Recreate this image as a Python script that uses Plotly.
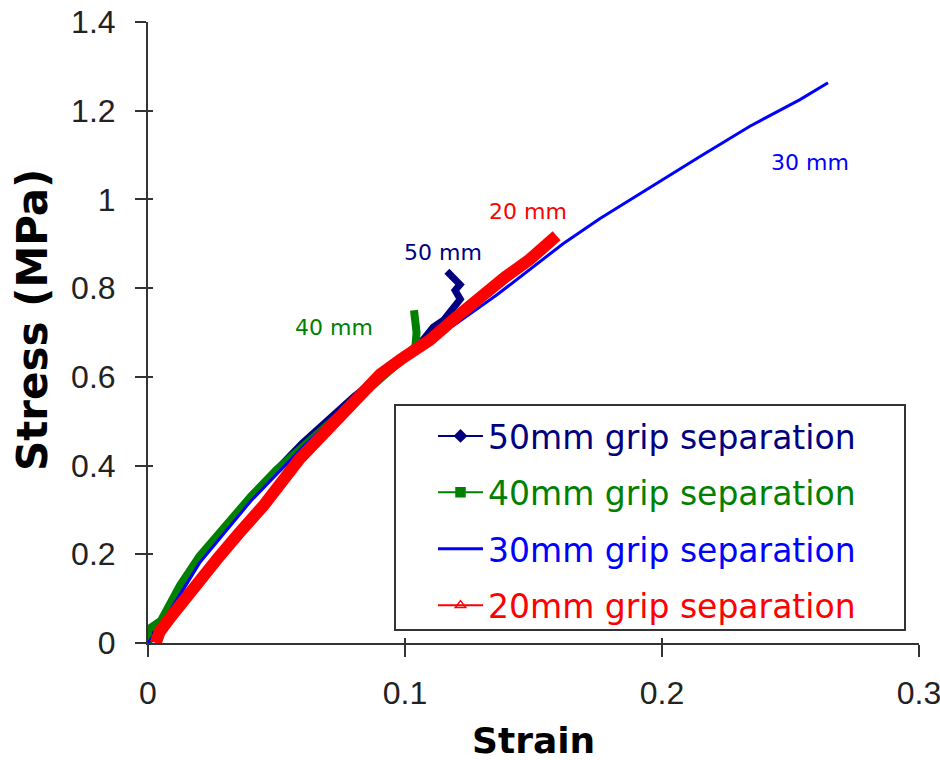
import plotly.graph_objects as go

# ---- data (strain, stress in MPa) ----
strain_50 = [0.0, 0.005, 0.02, 0.04, 0.06, 0.08, 0.095, 0.107, 0.111, 0.115, 0.1215, 0.1195, 0.1214, 0.1183, 0.1163]
stress_50 = [0.0, 0.045, 0.19, 0.33, 0.45, 0.555, 0.625, 0.683, 0.712, 0.728, 0.775, 0.795, 0.808, 0.825, 0.838]

strain_40 = [0.0, 0.0, 0.005, 0.0125, 0.02, 0.03, 0.04, 0.05, 0.06, 0.07, 0.08, 0.09, 0.1, 0.104, 0.1045, 0.1038, 0.1035]
stress_40 = [0.0, 0.03, 0.05, 0.13, 0.195, 0.265, 0.33, 0.39, 0.44, 0.49, 0.545, 0.595, 0.645, 0.665, 0.70, 0.725, 0.75]

strain_30 = [0.0, 0.005, 0.02, 0.04, 0.06, 0.08, 0.1, 0.12, 0.1358, 0.1498, 0.1615, 0.1759, 0.1953, 0.2148, 0.2342, 0.2537, 0.2646]
stress_30 = [0.0, 0.04, 0.18, 0.32, 0.44, 0.55, 0.645, 0.72, 0.785, 0.848, 0.9, 0.957, 1.027, 1.097, 1.165, 1.225, 1.263]

strain_20 = [0.003, 0.0045, 0.009, 0.018, 0.027, 0.035, 0.045, 0.059, 0.071, 0.0825, 0.0903, 0.0985, 0.1097, 0.12, 0.129, 0.139, 0.1486, 0.159]
stress_20 = [0.0, 0.025, 0.06, 0.13, 0.19, 0.245, 0.31, 0.415, 0.485, 0.553, 0.605, 0.64, 0.683, 0.735, 0.78, 0.825, 0.865, 0.918]

series_names = ["50mm grip separation", "40mm grip separation", "30mm grip separation", "20mm grip separation"]
series_colors = ["#000080", "#008000", "#0000FF", "#FF0000"]
series_labels = ["50 mm", "40 mm", "30 mm", "20 mm"]
label_pos_x = [0.1148, 0.0724, 0.2576, 0.1479]
label_pos_y = [0.881, 0.712, 1.084, 0.972]

x_ticks = [0, 0.1, 0.2, 0.3]
x_tick_text = ["0", "0.1", "0.2", "0.3"]
y_ticks = [0, 0.2, 0.4, 0.6, 0.8, 1.0, 1.2, 1.4]
y_tick_text = ["0", "0.2", "0.4", "0.6", "0.8", "1", "1.2", "1.4"]

data_x = [strain_50, strain_40, strain_30, strain_20]
data_y = [stress_50, stress_40, stress_30, stress_20]
band_widths = [7, 8, 3, 12]
legend_symbols = ["diamond", "square", None, "triangle-up-open"]

fig = go.Figure()

# data bands (dense markers in the original appear as thick bands)
for xs, ys, c, w in zip(data_x, data_y, series_colors, band_widths):
    fig.add_trace(go.Scatter(x=xs, y=ys, mode="lines",
                             line=dict(color=c, width=w, shape="linear"),
                             showlegend=False, hoverinfo="skip"))

# legend entries (thin line + marker like the original legend)
for i, (name, c, sym) in enumerate(zip(series_names, series_colors, legend_symbols)):
    if sym is None:
        fig.add_trace(go.Scatter(x=[None], y=[None], mode="lines",
                                 line=dict(color=c, width=3),
                                 name=f"<span style='color:{c}'>{name}</span>",
                                 legendgroup=f"g{i}"))
    else:
        fig.add_trace(go.Scatter(x=[None], y=[None], mode="lines+markers",
                                 line=dict(color=c, width=2),
                                 marker=dict(symbol=sym, size=9, color=c,
                                             line=dict(color=c, width=1.5)),
                                 name=f"<span style='color:{c}'>{name}</span>",
                                 legendgroup=f"g{i}"))

# dummy trace for overlay axes (inner half of crossing ticks)
fig.add_trace(go.Scatter(x=[None], y=[None], xaxis="x2", yaxis="y2",
                         showlegend=False, hoverinfo="skip"))

for txt, lx, ly, c in zip(series_labels, label_pos_x, label_pos_y, series_colors):
    fig.add_annotation(x=lx, y=ly, xref="x", yref="y", text=txt, showarrow=False,
                       font=dict(family="DejaVu Sans", size=22, color=c))

# axis titles
fig.add_annotation(x=0.4994, y=(643 - 740) / 621, xref="paper", yref="paper", text="<b>Strain</b>",
                   showarrow=False, xanchor="center", yanchor="middle",
                   font=dict(family="DejaVu Sans", size=36, color="black"))
fig.add_annotation(x=-0.1505, y=(643 - 320) / 621, xref="paper", yref="paper",
                   text="<b>Stress (MPa)</b>",
                   showarrow=False, xanchor="center", yanchor="middle", textangle=-90,
                   font=dict(family="DejaVu Sans", size=42, color="black"))

# legend box
fig.add_shape(type="rect", xref="paper", yref="paper",
              x0=(395 - 148) / 771, x1=(905 - 148) / 771,
              y0=(643 - 630) / 621, y1=(643 - 405) / 621,
              line=dict(color="#333333", width=2), fillcolor="white", layer="above")

axis_common = dict(showgrid=False, zeroline=False, showline=True, linecolor="#333333",
                   linewidth=2, ticks="outside", tickcolor="#333333", tickwidth=2,
                   mirror=False, ticklabeloverflow="allow")

fig.update_layout(
    width=940, height=760,
    margin=dict(l=148, r=21, t=22, b=117, autoexpand=False),
    paper_bgcolor="white", plot_bgcolor="white",
    font=dict(family="Liberation Sans", size=32, color="#222222"),
    xaxis=dict(range=[0, 0.3], tickvals=x_ticks, ticktext=x_tick_text, ticklen=12,
               ticklabelstandoff=9, **axis_common),
    yaxis=dict(range=[0, 1.4], tickvals=y_ticks, ticktext=y_tick_text, ticklen=11,
               ticklabelstandoff=13, **axis_common),
    xaxis2=dict(range=[0, 0.3], overlaying="x", anchor="y", side="bottom",
                tickvals=x_ticks, showticklabels=False, ticks="inside", ticklen=5,
                tickcolor="#333333", tickwidth=2, showgrid=False, zeroline=False, showline=False),
    yaxis2=dict(range=[0, 1.4], overlaying="y", anchor="x", side="left",
                tickvals=y_ticks, showticklabels=False, ticks="inside", ticklen=5,
                tickcolor="#333333", tickwidth=2, showgrid=False, zeroline=False, showline=False),
    legend=dict(x=(433 - 148) / 771, y=(643 - 408) / 621, xanchor="left", yanchor="top",
                bgcolor="rgba(0,0,0,0)", borderwidth=0, itemwidth=45,
                traceorder="grouped", tracegroupgap=10.5,
                font=dict(family="DejaVu Sans", size=33)),
    showlegend=True,
)

fig.write_html("out.html", config={"displayModeBar": False},
               post_script="document.body.style.margin='0';document.body.style.overflow='hidden';")
